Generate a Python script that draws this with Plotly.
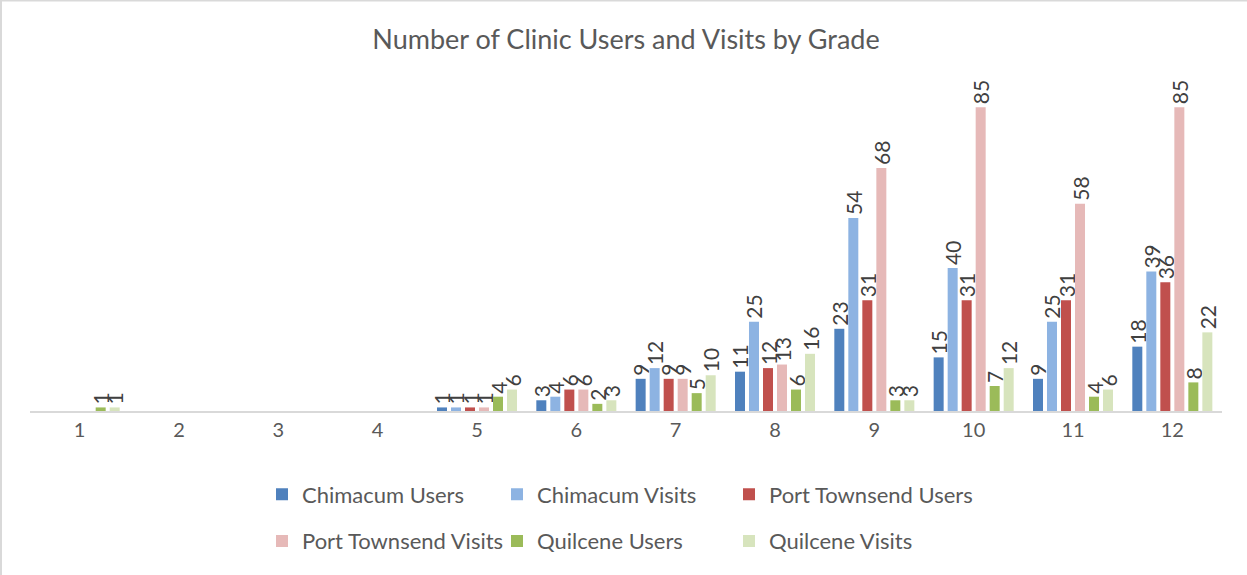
import plotly.graph_objects as go

grades = ["1", "2", "3", "4", "5", "6", "7", "8", "9", "10", "11", "12"]
chimacum_users = [None, None, None, None, 1, 3, 9, 11, 23, 15, 9, 18]
chimacum_visits = [None, None, None, None, 1, 4, 12, 25, 54, 40, 25, 39]
pt_users = [None, None, None, None, 1, 6, 9, 12, 31, 31, 31, 36]
pt_visits = [None, None, None, None, 1, 6, 9, 13, 68, 85, 58, 85]
quil_users = [1, None, None, None, 4, 2, 5, 6, 3, 7, 4, 8]
quil_visits = [1, None, None, None, 6, 3, 10, 16, 3, 12, 6, 22]

# legend column for each series (legend rows: 3 entries per row)
series = [
    ("Chimacum Users", chimacum_users, "#4F81BD", "legend"),
    ("Chimacum Visits", chimacum_visits, "#8DB3E2", "legend2"),
    ("Port Townsend Users", pt_users, "#C0504D", "legend3"),
    ("Port Townsend Visits", pt_visits, "#E6B9B8", "legend"),
    ("Quilcene Users", quil_users, "#9BBB59", "legend2"),
    ("Quilcene Visits", quil_visits, "#D7E4BD", "legend3"),
]

FONT = "Lato, 'Open Sans', sans-serif"

fig = go.Figure()
for name, vals, color, lg in series:
    fig.add_trace(go.Bar(
        name=name, x=grades, y=vals,
        marker=dict(color=color, line=dict(width=0)),
        text=[str(v) if v is not None else "" for v in vals],
        textposition="outside", textangle=-90, constraintext="none",
        cliponaxis=False,
        textfont=dict(family=FONT, size=21, color="#404040"),
        legend=lg, legendgroup=name,
    ))

L, R, T, B = 30, 25, 70, 164
W, H = 1247, 575
pw = W - L - R
ph = H - T - B

def px_x(p):
    return (p - L) / pw

def px_y(p):
    return (H - B - p) / ph

leg_common = dict(
    orientation="v", xanchor="left", yanchor="middle",
    font=dict(family=FONT, size=22, color="#595959"),
    tracegroupgap=15,
    bgcolor="rgba(0,0,0,0)", itemclick=False, itemdoubleclick=False,
)

border = dict(color="#D9D9D9", width=2)

fig.update_layout(
    width=W, height=H,
    margin=dict(l=L, r=R, t=T, b=B),
    paper_bgcolor="white", plot_bgcolor="white",
    title=dict(text="Number of Clinic Users and Visits by Grade",
               x=0.5, xanchor="center", xref="paper", y=1 - 40 / H, yanchor="middle",
               font=dict(family=FONT, size=27, color="#595959")),
    barmode="group", bargap=0.154, bargroupgap=0.286,
    legend=dict(x=px_x(262), y=px_y(518), **leg_common),
    legend2=dict(x=px_x(497), y=px_y(518), **leg_common),
    legend3=dict(x=px_x(729), y=px_y(518), **leg_common),
    xaxis=dict(type="category", showline=True, linecolor="#D9D9D9", linewidth=1.5,
               ticks="", showgrid=False,
               tickfont=dict(family=FONT, size=20, color="#595959")),
    yaxis=dict(range=[0, 95.4], visible=False, showgrid=False, zeroline=False),
    shapes=[
        dict(type="line", xref="paper", yref="paper",
             x0=px_x(0), x1=px_x(W), y0=px_y(0.5), y1=px_y(0.5), line=border, layer="below"),
        dict(type="line", xref="paper", yref="paper",
             x0=px_x(1), x1=px_x(1), y0=px_y(0), y1=px_y(H), line=border, layer="below"),
    ],
    showlegend=True,
)

fig.write_html("out.html", config={"displayModeBar": False},
               post_script="document.body.style.margin='0px';document.body.style.overflow='hidden';")
